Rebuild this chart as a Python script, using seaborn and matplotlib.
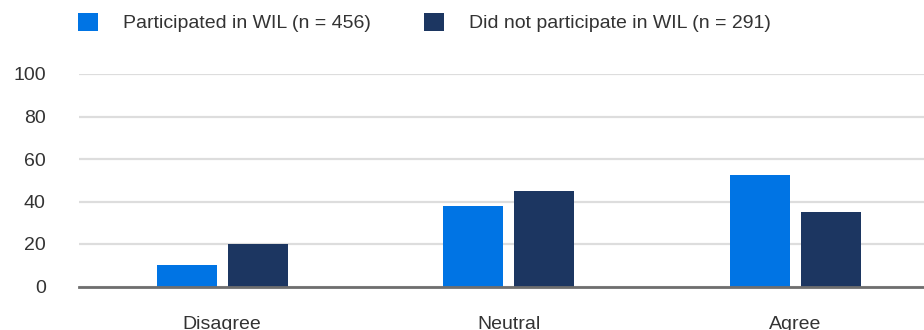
import matplotlib
matplotlib.use("Agg")
import matplotlib.pyplot as plt
import seaborn as sns
import pandas as pd
from matplotlib.patches import Patch

categories = ["Disagree", "Neutral", "Agree"]
series_names = ["Participated in WIL (n = 456)", "Did not participate in WIL (n = 291)"]
participated = [10, 38, 52.5]
not_participated = [20, 45, 35]
y_ticks = [0, 20, 40, 60, 80, 100]

colors = ["#0074E4", "#1C3661"]

df = pd.DataFrame({
    "category": categories * 2,
    "group": [series_names[0]] * 3 + [series_names[1]] * 3,
    "value": participated + not_participated,
})

sns.set_theme(style="white")
plt.rcParams["font.family"] = ["Liberation Sans", "DejaVu Sans"]
FS = 14

fig = plt.figure(figsize=(9.24, 3.30), dpi=100)
ax = fig.add_axes([79 / 924, 1 - 286.5 / 330, (938.5 - 79) / 924, (286.5 - 74) / 330])

sns.barplot(data=df, x="category", y="value", hue="group", order=categories,
            hue_order=series_names, palette=colors, width=0.496, gap=0.155,
            saturation=1, ax=ax, legend=False, errorbar=None, linewidth=0)

ax.set_ylim(0, 100)
ax.set_xlim(-0.5, 2.5)
ax.set_yticks(y_ticks)
ax.set_yticklabels([str(v) for v in y_ticks])
ax.yaxis.grid(True, color="#dddddd", linewidth=1.6)
ax.set_axisbelow(True)
for s in ["top", "right", "left"]:
    ax.spines[s].set_visible(False)
ax.spines["bottom"].set_color("#6e6e6e")
ax.spines["bottom"].set_linewidth(2)
ax.spines["bottom"].set_zorder(5)
ax.set_xlabel("")
ax.set_ylabel("")
ax.tick_params(axis="y", length=0, pad=24, labelsize=FS, labelcolor="#333333")
ax.tick_params(axis="x", length=0, pad=21.5, labelsize=FS, labelcolor="#333333")

handles = [Patch(facecolor=c, edgecolor="none") for c in colors]
fig.legend(handles, series_names, loc="upper left", bbox_to_anchor=(78 / 924, 1 - 12.5 / 330),
           ncol=2, frameon=False, fontsize=FS, labelcolor="#333333",
           handlelength=1.03, handleheight=1.08, handletextpad=1.29,
           columnspacing=2.73, borderaxespad=0, borderpad=0)

fig.savefig("out.png", dpi=100)
